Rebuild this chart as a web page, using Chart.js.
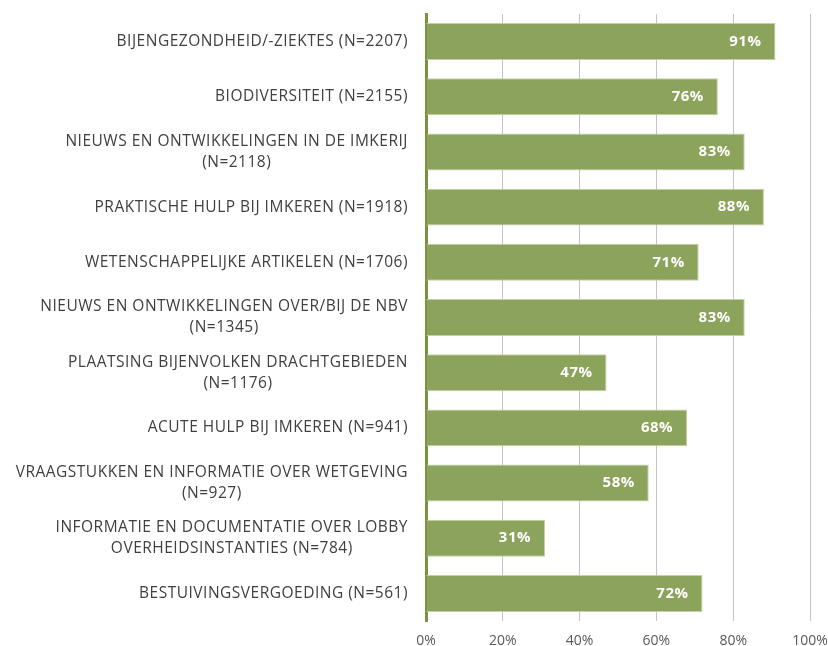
<!DOCTYPE html>
<html>
<head>
<meta charset="utf-8">
<script src="https://cdn.jsdelivr.net/npm/chart.js@4/dist/chart.umd.min.js"></script>
<style>
  html, body { margin: 0; padding: 0; background: #fff; }
  #wrap { width: 828px; height: 646px; position: relative; }
</style>
</head>
<body>
<div id="wrap"><canvas id="myChart"></canvas></div>
<script>
// categories (multi-line labels as arrays)
var categories = [
  ["BIJENGEZONDHEID/-ZIEKTES (N=2207)"],
  ["BIODIVERSITEIT (N=2155)"],
  ["NIEUWS EN ONTWIKKELINGEN IN DE IMKERIJ", "(N=2118)"],
  ["PRAKTISCHE HULP BIJ IMKEREN (N=1918)"],
  ["WETENSCHAPPELIJKE ARTIKELEN (N=1706)"],
  ["NIEUWS EN ONTWIKKELINGEN OVER/BIJ DE NBV", "(N=1345)"],
  ["PLAATSING BIJENVOLKEN DRACHTGEBIEDEN", "(N=1176)"],
  ["ACUTE HULP BIJ IMKEREN (N=941)"],
  ["VRAAGSTUKKEN EN INFORMATIE OVER WETGEVING", "(N=927)"],
  ["INFORMATIE EN DOCUMENTATIE OVER LOBBY", "OVERHEIDSINSTANTIES (N=784)"],
  ["BESTUIVINGSVERGOEDING (N=561)"]
];
var values = [91, 76, 83, 88, 71, 83, 47, 68, 58, 31, 72];
var tickValues = [0, 20, 40, 60, 80, 100];

var labelFont = "15.5px 'Open Sans'";

// draws the category labels (block right aligned, lines centred) and the value labels
var labelPlugin = {
  id: "labels",
  afterDatasetsDraw: function(chart) {
    var ctx = chart.ctx;
    var yScale = chart.scales.y;
    var area = chart.chartArea;
    ctx.save();
    ctx.font = labelFont;
    ctx.letterSpacing = "0.5px";
    ctx.fillStyle = "#404040";
    ctx.textAlign = "center";
    ctx.textBaseline = "middle";
    categories.forEach(function(lines, i) {
      var yc = yScale.getPixelForValue(i);
      var maxW = 0;
      lines.forEach(function(l) { maxW = Math.max(maxW, ctx.measureText(l).width); });
      var cx = area.left - 18 - maxW / 2;
      var lh = 21;
      var y0 = yc - (lines.length - 1) * lh / 2;
      lines.forEach(function(l, k) { ctx.fillText(l, cx, y0 + k * lh); });
    });
    // value labels
    var meta = chart.getDatasetMeta(0);
    ctx.font = "bold 15px 'Open Sans'";
    ctx.letterSpacing = "0.5px";
    ctx.fillStyle = "#ffffff";
    ctx.textAlign = "right";
    meta.data.forEach(function(bar, i) {
      ctx.fillText(values[i] + "%", bar.x - 14, bar.y);
    });
    ctx.restore();
  }
};

new Chart("myChart", {
  type: "bar",
  data: {
    labels: categories.map(function(c) { return c.join(" "); }),
    datasets: [{
      data: values,
      backgroundColor: "#8ba35a",
      borderColor: "#c2d0a3",
      borderWidth: 1,
      categoryPercentage: 1,
      barPercentage: 0.67
    }]
  },
  options: {
    indexAxis: "y",
    responsive: true,
    maintainAspectRatio: false,
    animation: false,
    layout: { padding: { top: 14, right: 0, left: 0, bottom: 0 } },
    plugins: {
      legend: { display: false },
      tooltip: { enabled: false }
    },
    scales: {
      x: {
        min: 0,
        max: 100,
        afterBuildTicks: function(s) {
          s.ticks = tickValues.map(function(v) { return { value: v }; });
        },
        ticks: {
          callback: function(v) { return v + "%"; },
          color: "#595959",
          font: { family: "'Open Sans'", size: 14 },
          padding: 12
        },
        grid: { color: "#c3c3c3", lineWidth: 1, drawTicks: false },
        border: { display: false },
        afterFit: function(s) {
          s.height = 25;
          s.paddingRight = 18;
          s.paddingLeft = 0;
        }
      },
      y: {
        ticks: { display: false },
        grid: { display: false },
        border: { color: "#77933c", width: 3 },
        afterFit: function(s) { s.width = 426; }
      }
    }
  },
  plugins: [labelPlugin]
});
</script>
</body>
</html>
